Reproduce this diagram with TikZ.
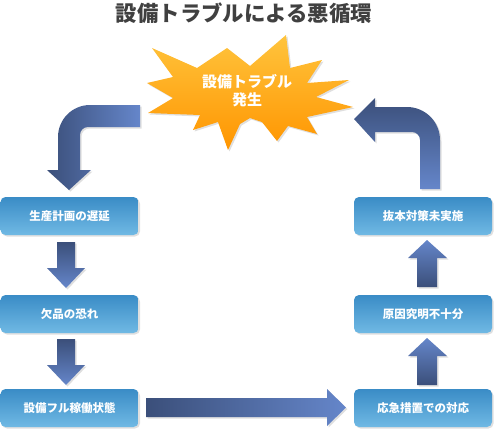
\documentclass[tikz,border=0pt]{standalone}
\usepackage{fontspec}
\newfontfamily\jpfont{Noto Sans CJK JP}
\usetikzlibrary{positioning,shadows}

\definecolor{boxtop}{HTML}{3A8CC6}
\definecolor{boxbot}{HTML}{70B9E4}
\definecolor{arrdark}{HTML}{3B4F7A}
\definecolor{arrlight}{HTML}{6586CA}
\definecolor{burstlight}{HTML}{FFC43D}
\definecolor{burstdark}{HTML}{FF9500}
\definecolor{titlegray}{HTML}{404040}

\tikzset{
  stepbox/.style={rounded corners=5pt, minimum width=138pt, minimum height=38pt,
    top color=boxtop, bottom color=boxbot, text=white,
    font=\jpfont\bfseries\fontsize{11.5}{13}\selectfont,
    drop shadow={shadow xshift=1.5pt, shadow yshift=-1.5pt, opacity=.25}},
  blockshade/.style={drop shadow={shadow xshift=1.5pt, shadow yshift=-1.5pt, opacity=.25}},
}

\begin{document}
\begin{tikzpicture}[x=1pt,y=-1pt]
\useasboundingbox (0,0) rectangle (497,432);

% title
\node[text=titlegray, font=\jpfont\bfseries\fontsize{21.4}{24}\selectfont] (title) at (244,13) {設備トラブルによる悪循環};

% burst
\path[top color=burstlight, bottom color=burstdark, blockshade]
  (152,48) -- (197,68) -- (227,48) -- (250,66) -- (286,35) -- (290,68)
  -- (322,60) -- (307,83) -- (349,80) -- (316,97) -- (353,107) -- (307,117)
  -- (317,134) -- (288,126) -- (277,141) -- (262,122) -- (250,118) -- (240,124)
  -- (228,150) -- (218,122) -- (193,130) -- (200,115) -- (148,113) -- (173,98)
  -- (147,83) -- (173,77) -- cycle;
\node[text=white, align=center, font=\jpfont\bfseries\fontsize{15}{18}\selectfont] (trouble) at (247,91) {設備トラブル\\発生};

% left column
\node[stepbox] (delay) at (69.5,216) {生産計画の遅延};
\node[stepbox] (shortage) at (69.5,314) {欠品の恐れ};
\node[stepbox] (fullrun) at (69.5,408) {設備フル稼働状態};

% right column
\node[stepbox] (measure) at (423,216) {抜本対策未実施};
\node[stepbox] (cause) at (423,314) {原因究明不十分};
\node[stepbox] (emergency) at (423,408) {応急措置での対応};

% curved arrow to the left column
\path[left color=arrdark, right color=arrlight, blockshade]
  (140,105) [rounded corners=32pt] -- (58,105) [sharp corners] -- (58,170)
  -- (47,170) -- (69,190) -- (91,170) -- (80,170)
  [rounded corners=8pt] -- (80,127) [sharp corners] -- (140,127) -- cycle;

% down arrows
\foreach \ytop in {242,339}{
  \path[top color=arrdark, bottom color=arrlight, blockshade]
    (57,\ytop) -- (75,\ytop) -- (75,\ytop+26) -- (85,\ytop+26) -- (66,\ytop+46)
    -- (47,\ytop+26) -- (57,\ytop+26) -- cycle;
}

% bottom arrow
\path[left color=arrdark, right color=arrlight, blockshade]
  (146,398) -- (327,398) -- (327,389) -- (346,407.5) -- (327,426) -- (327,417)
  -- (146,417) -- cycle;

% up arrows
\foreach \ytip in {240,338}{
  \path[top color=arrlight, bottom color=arrdark, blockshade]
    (427,\ytip) -- (447,\ytip+18) -- (437,\ytip+18) -- (437,\ytip+47)
    -- (417,\ytip+47) -- (417,\ytip+18) -- (408,\ytip+18) -- cycle;
}

% curved arrow back to the burst
\path[top color=arrdark, bottom color=arrlight, blockshade]
  (354,119) -- (375,98) -- (375,107) [rounded corners=33pt] -- (440,107)
  [sharp corners] -- (440,189) -- (420,189) [rounded corners=8pt] -- (420,132)
  [sharp corners] -- (375,132) -- (375,142) -- cycle;
\end{tikzpicture}
\end{document}
